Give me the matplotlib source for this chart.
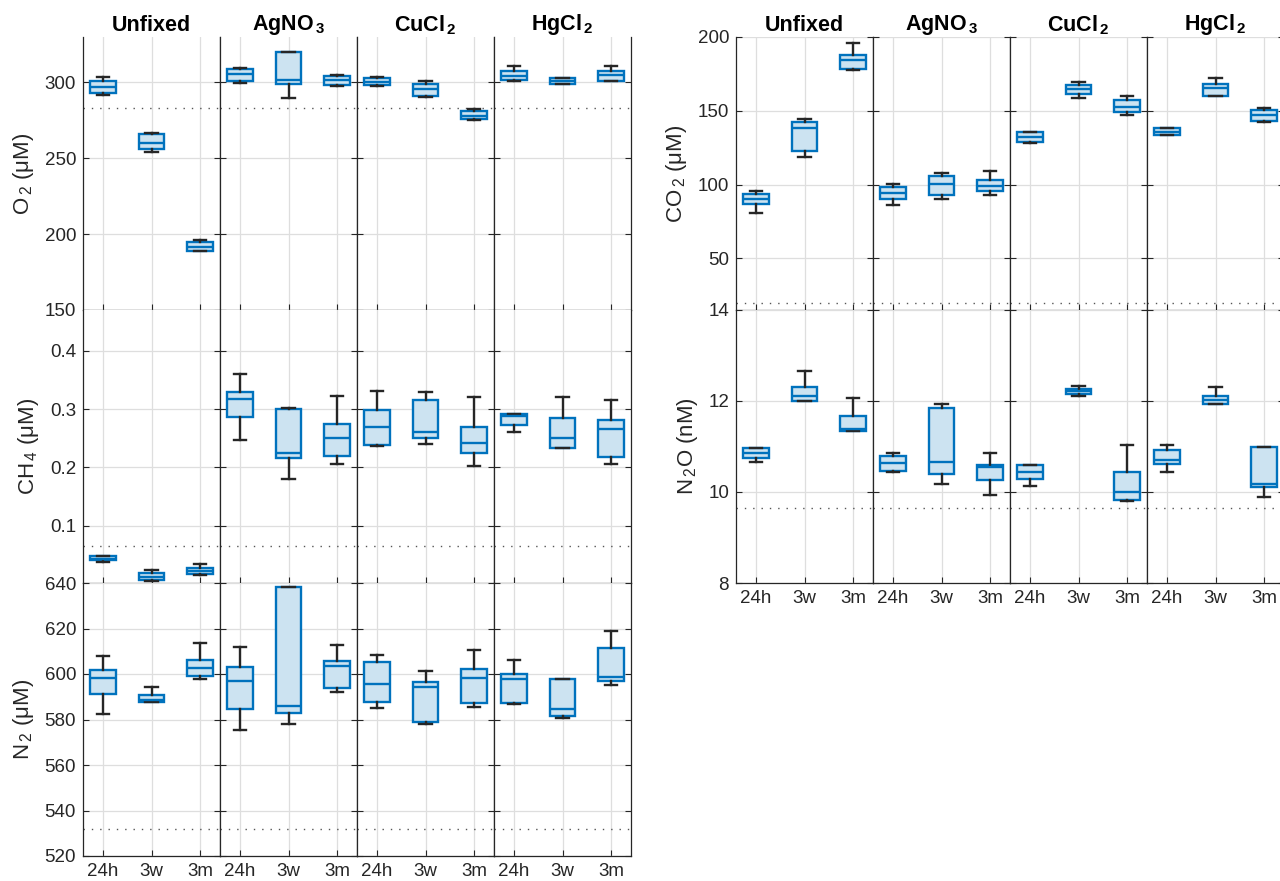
import numpy as np
import matplotlib
matplotlib.use("Agg")
import matplotlib.pyplot as plt

plt.rcParams['font.family'] = ['Liberation Sans', 'DejaVu Sans']
plt.rcParams['mathtext.fontset'] = 'custom'
plt.rcParams['mathtext.rm'] = 'Liberation Sans'
plt.rcParams['mathtext.bf'] = 'Liberation Sans:bold'
plt.rcParams['mathtext.default'] = 'regular'

# ----------------------------
# Data: per gas, per treatment, per time -> [low whisker, q1, median, q3, high whisker]
# ----------------------------
treatments = ["Unfixed", r"AgNO$_{\,\mathbf{3}}$", r"CuCl$_{\,\mathbf{2}}$", r"HgCl$_{\,\mathbf{2}}$"]
times = ["24h", "3w", "3m"]

o2 = [
    [[291.6, 293.0, 297.0, 301.1, 303.3], [254.0, 256.2, 260.2, 265.9, 266.8], [189.1, 189.1, 191.6, 194.9, 196.0]],
    [[299.8, 301.3, 305.3, 309.1, 309.6], [290.0, 299.1, 301.8, 320.2, 320.2], [297.4, 298.5, 301.6, 304.0, 305.1]],
    [[298.0, 298.5, 300.3, 302.7, 303.3], [290.5, 291.4, 295.6, 298.9, 301.1], [275.2, 275.9, 277.9, 281.0, 282.5]],
    [[301.1, 301.8, 304.4, 307.3, 310.6], [299.3, 299.3, 301.3, 302.9, 302.9], [301.3, 301.3, 305.1, 307.3, 310.6]],
]
ch4 = [
    [[0.0385, 0.0408, 0.044, 0.0477, 0.0477], [0.0046, 0.0069, 0.0115, 0.0184, 0.0241], [0.0149, 0.0172, 0.0224, 0.0282, 0.0339]],
    [[0.247, 0.287, 0.318, 0.330, 0.361], [0.181, 0.216, 0.225, 0.300, 0.302], [0.206, 0.219, 0.250, 0.275, 0.322]],
    [[0.236, 0.238, 0.2695, 0.2994, 0.331], [0.240, 0.250, 0.260, 0.316, 0.329], [0.2034, 0.225, 0.2425, 0.269, 0.321]],
    [[0.260, 0.272, 0.2885, 0.2925, 0.2925], [0.234, 0.234, 0.251, 0.2856, 0.321], [0.2063, 0.2184, 0.2667, 0.2816, 0.315]],
]
n2 = [
    [[582.5, 591.0, 598.3, 601.9, 607.9], [587.8, 587.8, 588.5, 590.7, 594.2], [597.6, 599.2, 602.7, 606.2, 613.6]],
    [[575.4, 584.6, 597.0, 603.0, 611.9], [578.2, 582.7, 586.0, 638.1, 638.1], [592.2, 593.8, 603.5, 605.7, 612.7]],
    [[585.2, 587.7, 595.4, 605.4, 608.4], [578.2, 578.8, 594.2, 596.5, 601.2], [585.3, 587.2, 598.4, 602.4, 610.4]],
    [[586.8, 587.4, 597.7, 600.0, 606.3], [580.7, 581.5, 584.4, 597.6, 597.6], [595.2, 597.1, 598.7, 611.4, 618.7]],
]
co2 = [
    [[80.7, 86.6, 90.2, 93.6, 95.5], [118.4, 122.9, 138.1, 142.4, 144.7], [177.4, 178.5, 184.4, 187.6, 195.8]],
    [[85.9, 90.2, 94.3, 98.2, 100.5], [90.0, 92.7, 100.5, 105.7, 107.7], [93.2, 95.7, 98.9, 103.0, 109.5]],
    [[127.9, 128.8, 132.2, 135.6, 135.6], [159.0, 161.5, 164.7, 167.2, 169.2], [147.2, 149.3, 152.9, 157.2, 159.7]],
    [[133.8, 133.8, 135.4, 138.1, 138.1], [160.1, 160.1, 165.4, 168.1, 171.9], [142.7, 143.1, 147.0, 150.2, 152.0]],
]
n2o = [
    [[10.65, 10.75, 10.86, 10.97, 10.97], [12.0, 12.0, 12.11, 12.30, 12.66], [11.33, 11.33, 11.375, 11.68, 12.06]],
    [[10.43, 10.47, 10.64, 10.79, 10.85], [10.18, 10.40, 10.67, 11.85, 11.93], [9.93, 10.26, 10.55, 10.60, 10.85]],
    [[10.14, 10.29, 10.43, 10.60, 10.60], [12.12, 12.16, 12.22, 12.27, 12.32], [9.81, 9.82, 10.01, 10.43, 11.03]],
    [[10.44, 10.62, 10.71, 10.93, 11.04], [11.94, 11.94, 12.02, 12.12, 12.31], [9.90, 10.11, 10.17, 10.98, 10.98]],
]

# reference (dotted) levels
o2_ref = 283.2
ch4_ref = 0.065
n2_ref = 532.0
co2_ref = 19.9
n2o_ref = 9.65

# ----------------------------
# Style
# ----------------------------
BLUE = "#0072BD"
FILL = "#CCE3F1"
DARK = "#262626"
W, H = 1280, 881

fig = plt.figure(figsize=(W / 100, H / 100), dpi=100)


def make_axes(x0, top, h):
    return fig.add_axes([x0 / W, 1 - (top + h) / H, 137 / W, h / H])


def draw_panel(ax, boxes, ref, ylim, yticks, show_y, show_x, ylabel=None, title=None):
    stats = []
    for lo, q1, med, q3, hi in boxes:
        stats.append(dict(whislo=lo, q1=q1, med=med, q3=q3, whishi=hi, fliers=[]))
    ax.bxp(stats, positions=[1, 2, 3], widths=0.52, capwidths=0.26, patch_artist=True,
           showfliers=False,
           boxprops=dict(facecolor=FILL, edgecolor=BLUE, linewidth=1.7),
           medianprops=dict(color=BLUE, linewidth=1.7),
           whiskerprops=dict(color=DARK, linewidth=1.7),
           capprops=dict(color=DARK, linewidth=1.7))
    ax.axhline(ref, color="#555555", linestyle=(0, (1, 5)), linewidth=1.0, zorder=1)
    ax.set_xlim(0.59, 3.41)
    ax.set_ylim(*ylim)
    ax.set_yticks(yticks)
    ax.set_xticks([1, 2, 3])
    ax.set_xticklabels(times)
    ax.grid(True, color="#DEDEDE", linewidth=0.9)
    ax.set_axisbelow(True)
    ax.spines['top'].set_visible(False)
    for s in ['left', 'right', 'bottom']:
        ax.spines[s].set_color(DARK)
        ax.spines[s].set_linewidth(0.9)
    ax.tick_params(direction='in', length=4, width=0.8, color=DARK, labelcolor=DARK,
                   labelsize=13.5, left=True, right=True, top=False, bottom=True,
                   labelleft=show_y, labelbottom=show_x, pad=5)
    if ylabel:
        ax.set_ylabel(ylabel, fontsize=16, color=DARK, labelpad=6)
    if title:
        ax.set_title(title, fontsize=15.5, fontweight='bold', pad=4)


# left block: O2, CH4, N2
left_rows = [
    (o2, o2_ref, (150, 330), [150, 200, 250, 300], r"O$_{\,2}$ (μM)"),
    (ch4, ch4_ref, (0.002, 0.47), [0.1, 0.2, 0.3, 0.4], r"CH$_{\,4}$ (μM)"),
    (n2, n2_ref, (520, 640), [520, 540, 560, 580, 600, 620, 640], r"N$_{\,2}$ (μM)"),
]
tops = [37, 310, 583]
for r, (data, ref, ylim, yt, lab) in enumerate(left_rows):
    for c in range(4):
        ax = make_axes(83 + 137 * c, tops[r], 273)
        draw_panel(ax, data[c], ref, ylim, yt, show_y=(c == 0), show_x=(r == 2),
                   ylabel=lab if c == 0 else None, title=treatments[c] if r == 0 else None)

# right block: CO2, N2O
right_rows = [
    (co2, co2_ref, (15, 200), [50, 100, 150, 200], r"CO$_{\,2}$ (μM)"),
    (n2o, n2o_ref, (8, 14), [8, 10, 12, 14], r"N$_{\,2}$O (nM)"),
]
for r, (data, ref, ylim, yt, lab) in enumerate(right_rows):
    for c in range(4):
        ax = make_axes(736 + 137 * c, tops[r], 273)
        draw_panel(ax, data[c], ref, ylim, yt, show_y=(c == 0), show_x=(r == 1),
                   ylabel=lab if c == 0 else None, title=treatments[c] if r == 0 else None)

plt.savefig("out.png", dpi=100)
